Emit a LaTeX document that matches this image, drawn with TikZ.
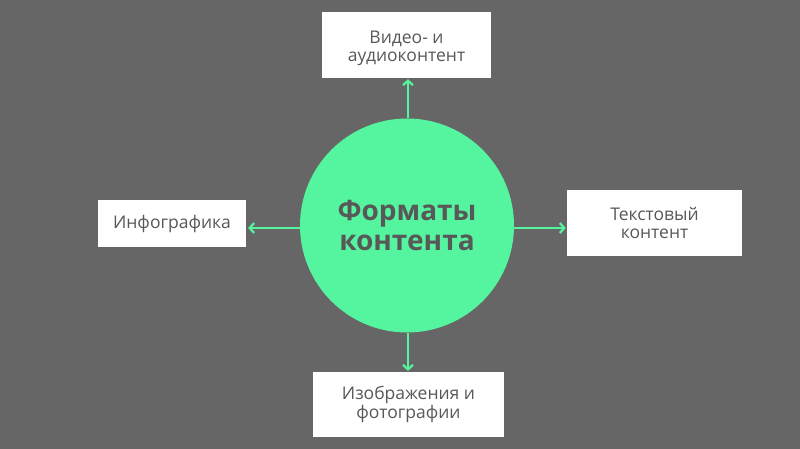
\documentclass[tikz,border=0pt]{standalone}
\usepackage{fontspec}
\setmainfont{Open Sans}
\usetikzlibrary{arrows.meta}
\definecolor{bg}{HTML}{666666}
\definecolor{mint}{HTML}{55F5A0}
\definecolor{txt}{HTML}{585858}
\tikzset{
  box/.style={fill=white, draw=none, inner sep=0pt, align=center, text=txt,
    font=\fontsize{17.5}{18.5}\selectfont},
  boxtext/.style={inner sep=0pt, align=center, text=txt,
    font=\fontsize{17.5}{18.5}\selectfont},
  hub/.style={circle, fill=mint, draw=none, inner sep=0pt, minimum size=214pt,
    align=center, text=txt, font=\fontsize{28}{29.5}\selectfont\bfseries},
  arr/.style={draw=mint, line width=2.2pt, shorten >=1pt,
    -{Straight Barb[length=4.5pt,width=10pt]}}
}
\begin{document}
\begin{tikzpicture}[x=1pt,y=-1pt]
\fill[bg] (0,0) rectangle (800,449);
\useasboundingbox (0,0) rectangle (800,449);
\node[hub] (c) at (407,225.5) {Форматы\\контента};
\node[box, minimum width=169pt, minimum height=66pt] (top) at (406.5,45) {};
\node[boxtext] (toplbl) at ([yshift=-3.5pt]top.center) {Видео- и\\аудиоконтент};
\node[box, minimum width=148pt, minimum height=47pt] (inf) at (172,223.5) {Инфографика};
\node[box, minimum width=175pt, minimum height=66pt] (txtc) at (654.5,223) {Текстовый\\контент};
\node[box, minimum width=191pt, minimum height=65pt] (img) at (408.5,404.5) {Изображения и\\фотографии};
\draw[arr] ([xshift=1pt]c.north) -- ([xshift=1pt]c.north |- top.south);
\draw[arr] ([xshift=1pt]c.south) -- ([xshift=1pt]c.south |- img.north);
\draw[arr, shorten >=2pt] ([yshift=-2.5pt]c.west) -- ([yshift=-2.5pt]c.west -| inf.east);
\draw[arr] ([yshift=-2.5pt]c.east) -- ([yshift=-2.5pt]c.east -| txtc.west);
\end{tikzpicture}
\end{document}
